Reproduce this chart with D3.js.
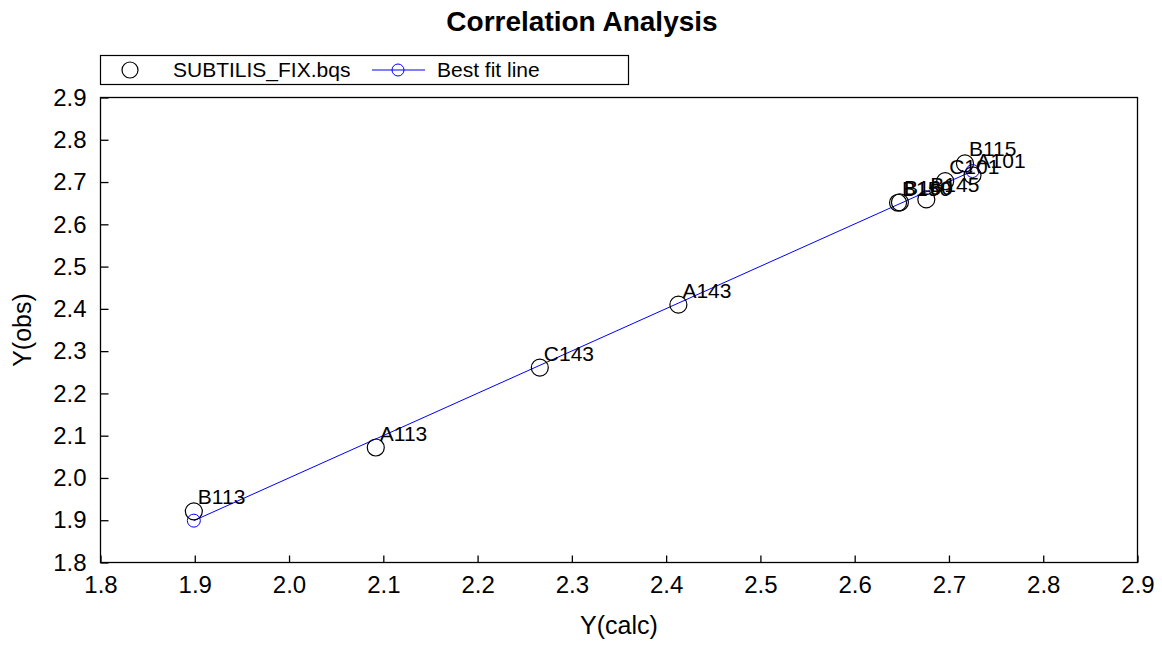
<!DOCTYPE html>
<html>
<head>
<meta charset="utf-8">
<script src="https://cdn.jsdelivr.net/npm/d3@7"></script>
<style>
  body { margin: 0; background: #fff; }
  text { font-family: "Liberation Sans", Arial, sans-serif; }
</style>
</head>
<body>
<svg id="chart" width="1162" height="650"></svg>
<script>
// observed data points
const pointNames = ["B113", "A113", "C143", "A143", "B150", "B160", "B145", "C101", "B115", "A101"];
const calcValues = [1.899, 2.092, 2.266, 2.413, 2.646, 2.648, 2.676, 2.696, 2.717, 2.725];
const obsValues  = [1.921, 2.072, 2.261, 2.410, 2.651, 2.652, 2.659, 2.702, 2.744, 2.716];

// best fit line end points
const fitCalc = [1.899, 2.725];
const fitObs  = [1.899, 2.726];

const xTicks = [1.8, 1.9, 2.0, 2.1, 2.2, 2.3, 2.4, 2.5, 2.6, 2.7, 2.8, 2.9];
const yTicks = [1.8, 1.9, 2.0, 2.1, 2.2, 2.3, 2.4, 2.5, 2.6, 2.7, 2.8, 2.9];

const seriesName = "SUBTILIS_FIX.bqs";
const fitName = "Best fit line";

const svg = d3.select("#chart");
const margin = { left: 100.5, right: 1137.5, top: 97.5, bottom: 562.5 };

const x = d3.scaleLinear().domain([1.8, 2.9]).range([margin.left, margin.right]);
const y = d3.scaleLinear().domain([1.8, 2.9]).range([margin.bottom, margin.top]);

// title
svg.append("text")
    .attr("x", 582).attr("y", 31)
    .attr("text-anchor", "middle")
    .attr("font-size", 28).attr("font-weight", "bold")
    .text("Correlation Analysis");

// frame
svg.append("rect")
    .attr("x", margin.left).attr("y", margin.top)
    .attr("width", margin.right - margin.left)
    .attr("height", margin.bottom - margin.top)
    .attr("fill", "none").attr("stroke", "#000").attr("stroke-width", 1.3);

// axes with inward ticks
const fmt = d3.format(".1f");
svg.append("g")
    .attr("transform", `translate(0,${margin.bottom})`)
    .call(d3.axisBottom(x).tickValues(xTicks).tickFormat(fmt).tickSizeInner(-7).tickSizeOuter(0).tickPadding(13))
    .call(g => g.select(".domain").remove())
    .call(g => g.selectAll("line").attr("stroke-width", 1.3))
    .call(g => g.selectAll("text").attr("font-size", 24).attr("font-family", "Liberation Sans, Arial, sans-serif").attr("fill", "#000"));

svg.append("g")
    .attr("transform", `translate(${margin.left},0)`)
    .call(d3.axisLeft(y).tickValues(yTicks).tickFormat(fmt).tickSizeInner(-8).tickSizeOuter(0).tickPadding(14))
    .call(g => g.select(".domain").remove())
    .call(g => g.selectAll("line").attr("stroke-width", 1.3))
    .call(g => g.selectAll("text").attr("font-size", 24).attr("font-family", "Liberation Sans, Arial, sans-serif").attr("fill", "#000"));

// axis titles
svg.append("text")
    .attr("x", 619).attr("y", 634)
    .attr("text-anchor", "middle").attr("font-size", 25)
    .text("Y(calc)");
svg.append("text")
    .attr("transform", "translate(31,330) rotate(-90)")
    .attr("text-anchor", "middle").attr("font-size", 25)
    .text("Y(obs)");

// best fit line
const fitData = fitCalc.map((c, i) => ({ c, o: fitObs[i] }));
svg.append("path")
    .datum(fitData)
    .attr("fill", "none").attr("stroke", "#0000ff").attr("stroke-width", 1)
    .attr("d", d3.line().x(d => x(d.c)).y(d => y(d.o)));
svg.append("g").selectAll("circle")
    .data(fitData)
    .join("circle")
    .attr("cx", d => x(d.c)).attr("cy", d => y(d.o)).attr("r", 6.5)
    .attr("fill", "none").attr("stroke", "#0000ff").attr("stroke-width", 1);

// observed points
const pts = pointNames.map((n, i) => ({ n, c: calcValues[i], o: obsValues[i] }));
svg.append("g").selectAll("circle")
    .data(pts)
    .join("circle")
    .attr("cx", d => x(d.c)).attr("cy", d => y(d.o)).attr("r", 8.5)
    .attr("fill", "none").attr("stroke", "#000").attr("stroke-width", 1.2);
svg.append("g").selectAll("text")
    .data(pts)
    .join("text")
    .attr("x", d => x(d.c) + 4).attr("y", d => y(d.o) - 7)
    .attr("font-size", 21)
    .text(d => d.n);

// legend
const lg = svg.append("g");
lg.append("rect")
    .attr("x", 100.5).attr("y", 55.5).attr("width", 528).attr("height", 29)
    .attr("fill", "#fff").attr("stroke", "#000").attr("stroke-width", 1.2);
lg.append("circle")
    .attr("cx", 130).attr("cy", 70).attr("r", 8)
    .attr("fill", "none").attr("stroke", "#000").attr("stroke-width", 1.2);
lg.append("text")
    .attr("x", 173).attr("y", 77).attr("font-size", 21)
    .text(seriesName);
lg.append("line")
    .attr("x1", 372).attr("x2", 425).attr("y1", 70).attr("y2", 70)
    .attr("stroke", "#0000ff").attr("stroke-width", 1);
lg.append("circle")
    .attr("cx", 398).attr("cy", 70).attr("r", 6)
    .attr("fill", "none").attr("stroke", "#0000ff").attr("stroke-width", 1);
lg.append("text")
    .attr("x", 437).attr("y", 77).attr("font-size", 21)
    .text(fitName);
</script>
</body>
</html>
